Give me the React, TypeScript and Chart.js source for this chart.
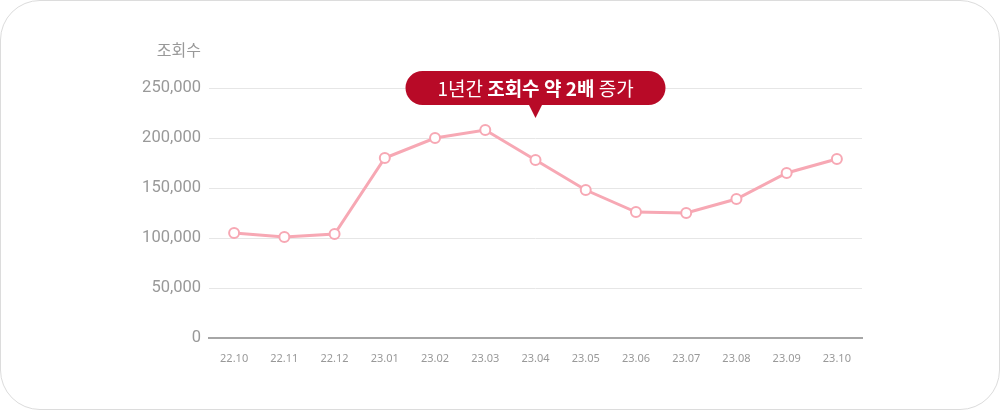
import { useEffect, useRef } from "react"
import { Chart, registerables, Plugin } from "chart.js"

Chart.register(...registerables)

const months = [
  "22.10", "22.11", "22.12", "23.01", "23.02", "23.03", "23.04",
  "23.05", "23.06", "23.07", "23.08", "23.09", "23.10",
]
const views = [
  105000, 101000, 104000, 180000, 200000, 208000, 178000,
  148000, 126000, 125000, 139000, 165000, 179000,
]
const yTicks = [0, 50000, 100000, 150000, 200000, 250000]
const yTitle = "조회수"
const calloutMonth = "23.04"
const calloutParts = [
  { text: "1년간 ", bold: false },
  { text: "조회수 약 2배", bold: true },
  { text: " 증가", bold: false },
]

const FONT = "'Noto Sans CJK KR', 'Noto Sans', sans-serif"
const NUM_FONT = "Roboto, 'Noto Sans', sans-serif"

// title above y axis + red speech bubble above the chart
const overlayPlugin: Plugin<"line"> = {
  id: "overlay",
  afterDraw(chart) {
    const { ctx, scales } = chart
    const x = scales.x
    const y = scales.y

    ctx.save()
    ctx.fillStyle = "#999"
    ctx.font = `16px ${FONT}`
    ctx.textAlign = "right"
    ctx.textBaseline = "middle"
    ctx.fillText(yTitle, y.right - 8, 50)

    // bubble
    const cx = x.getPixelForValue(months.indexOf(calloutMonth))
    const cy = y.getPixelForValue(yTicks[yTicks.length - 1])
    const w = 260
    const h = 34
    const left = cx - w / 2
    const top = cy - h / 2
    ctx.fillStyle = "#b80a27"
    ctx.beginPath()
    ctx.roundRect(left, top, w, h, h / 2)
    ctx.fill()
    ctx.beginPath()
    ctx.moveTo(cx - 7, top + h - 1)
    ctx.lineTo(cx + 7, top + h - 1)
    ctx.lineTo(cx, top + h + 13)
    ctx.closePath()
    ctx.fill()

    ctx.fillStyle = "#fff"
    ctx.textAlign = "left"
    ctx.textBaseline = "middle"
    const widths = calloutParts.map((p) => {
      ctx.font = `${p.bold ? "bold " : ""}19px ${FONT}`
      return ctx.measureText(p.text).width
    })
    let tx = cx - widths.reduce((a, b) => a + b, 0) / 2
    calloutParts.forEach((p, i) => {
      ctx.font = `${p.bold ? "bold " : ""}19px ${FONT}`
      ctx.fillText(p.text, tx, cy + 1)
      tx += widths[i]
    })
    ctx.restore()
  },
}

function ViewsChart() {
  const chartRef = useRef<HTMLCanvasElement>(null)
  const chartInstance = useRef<Chart | null>(null)

  useEffect(() => {
    if (!chartRef.current) return
    if (chartInstance.current) {
      chartInstance.current.destroy()
    }
    const ctx = chartRef.current.getContext("2d")
    if (!ctx) return

    chartInstance.current = new Chart(ctx, {
      type: "line",
      data: {
        labels: months,
        datasets: [
          {
            label: yTitle,
            data: views,
            borderColor: "#f7a8b4",
            borderWidth: 3,
            pointRadius: 5,
            pointBorderWidth: 2,
            pointBackgroundColor: "#fff",
            pointBorderColor: "#f7a8b4",
            tension: 0,
          },
        ],
      },
      options: {
        responsive: false,
        animation: false,
        layout: { padding: { top: 88, right: 139, left: 0, bottom: 0 } },
        plugins: {
          legend: { display: false },
          tooltip: { enabled: false },
        },
        scales: {
          x: {
            offset: true,
            grid: { display: false },
            border: { color: "#a6a6a6", width: 2 },
            ticks: {
              color: "#999",
              padding: 6,
              font: { family: "'Liberation Sans Narrow', 'Noto Sans', sans-serif", size: 11 },
              maxRotation: 0,
            },
            afterFit: (scale) => {
              scale.height = 72
            },
          },
          y: {
            min: 0,
            max: 250000,
            afterBuildTicks: (scale) => {
              scale.ticks = yTicks.map((v) => ({ value: v }))
            },
            grid: { color: "#e6e6e6", drawTicks: false },
            border: { display: false },
            ticks: {
              color: "#999",
              padding: 8,
              font: { family: NUM_FONT, size: 16.5 },
              callback: (value) => Number(value).toLocaleString("en-US"),
            },
            afterFit: (scale) => {
              scale.width = 208
            },
          },
        },
      },
      plugins: [overlayPlugin],
    })

    return () => {
      if (chartInstance.current) {
        chartInstance.current.destroy()
        chartInstance.current = null
      }
    }
  }, [])

  return <canvas ref={chartRef} width={1000} height={410} style={{ display: "block" }} />
}

export default function App() {
  useEffect(() => {
    document.body.style.margin = "0"
  }, [])

  return (
    <div
      style={{
        position: "relative",
        width: 1000,
        height: 410,
        boxSizing: "border-box",
        border: "1px solid #dcdcdc",
        borderRadius: 40,
        background: "#fff",
        overflow: "hidden",
      }}
    >
      <div style={{ position: "absolute", left: 0, top: -1 }}>
        <ViewsChart />
      </div>
    </div>
  )
}
